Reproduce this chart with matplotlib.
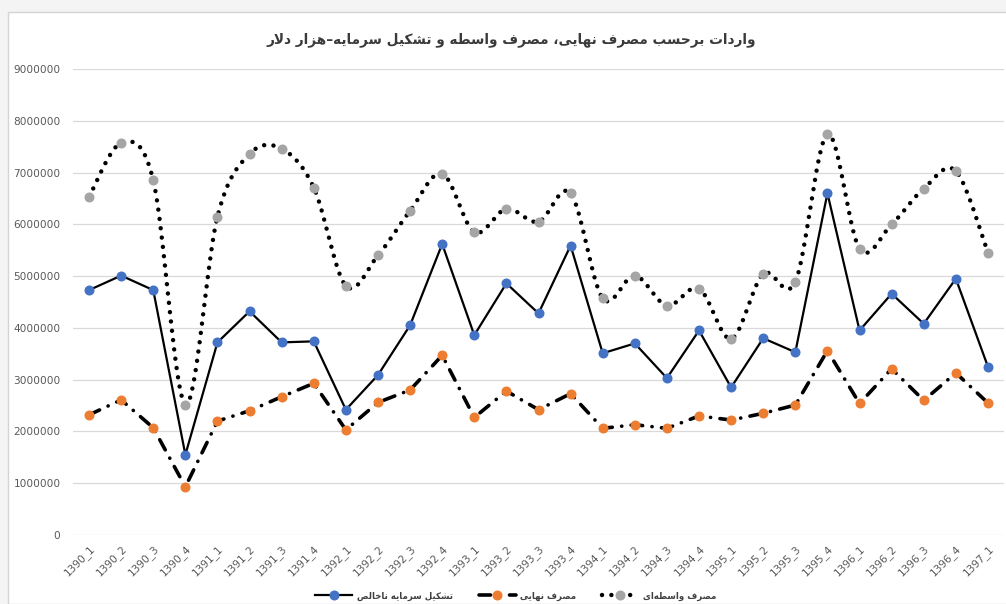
import numpy as np
import matplotlib
matplotlib.use("Agg")
import matplotlib.pyplot as plt
from matplotlib.lines import Line2D
from matplotlib.patches import Rectangle

# ---------------- data ----------------
periods = ["1390_1", "1390_2", "1390_3", "1390_4",
           "1391_1", "1391_2", "1391_3", "1391_4",
           "1392_1", "1392_2", "1392_3", "1392_4",
           "1393_1", "1393_2", "1393_3", "1393_4",
           "1394_1", "1394_2", "1394_3", "1394_4",
           "1395_1", "1395_2", "1395_3", "1395_4",
           "1396_1", "1396_2", "1396_3", "1396_4",
           "1397_1"]

capital_formation = [4730000, 5010000, 4730000, 1550000,
                     3720000, 4320000, 3720000, 3740000,
                     2420000, 3090000, 4050000, 5620000,
                     3860000, 4860000, 4280000, 5590000,
                     3510000, 3700000, 3030000, 3950000,
                     2850000, 3800000, 3530000, 6600000,
                     3950000, 4660000, 4080000, 4950000,
                     3250000]

final_consumption = [2320000, 2610000, 2070000, 930000,
                     2200000, 2400000, 2670000, 2930000,
                     2030000, 2560000, 2800000, 3470000,
                     2270000, 2780000, 2420000, 2730000,
                     2060000, 2130000, 2060000, 2300000,
                     2220000, 2350000, 2510000, 3560000,
                     2540000, 3210000, 2600000, 3130000,
                     2550000]

intermediate = [6530000, 7570000, 6850000, 2520000,
                6150000, 7360000, 7460000, 6710000,
                4810000, 5400000, 6260000, 6980000,
                5850000, 6300000, 6050000, 6600000,
                4570000, 5010000, 4430000, 4760000,
                3790000, 5040000, 4890000, 7740000,
                5530000, 6000000, 6690000, 7030000,
                5450000]

y_ticks = [0, 1000000, 2000000, 3000000, 4000000, 5000000,
           6000000, 7000000, 8000000, 9000000]

title_text = "واردات برحسب مصرف نهایی، مصرف واسطه و تشکیل سرمایه–هزار دلار"
label_capital = "تشکیل سرمایه ناخالص"
label_final = "مصرف نهایی"
label_inter = "مصرف واسطه\u200cای"

# ---------------- minimal Persian shaping (presentation forms + visual order) ----------------
FORMS = {  # isolated, final, initial, medial
    "\u0627": ("\uFE8D", "\uFE8E", None, None),
    "\u0628": ("\uFE8F", "\uFE90", "\uFE91", "\uFE92"),
    "\u062A": ("\uFE95", "\uFE96", "\uFE97", "\uFE98"),
    "\u062D": ("\uFEA1", "\uFEA2", "\uFEA3", "\uFEA4"),
    "\u062E": ("\uFEA5", "\uFEA6", "\uFEA7", "\uFEA8"),
    "\u062F": ("\uFEA9", "\uFEAA", None, None),
    "\u0631": ("\uFEAD", "\uFEAE", None, None),
    "\u0632": ("\uFEAF", "\uFEB0", None, None),
    "\u0633": ("\uFEB1", "\uFEB2", "\uFEB3", "\uFEB4"),
    "\u0634": ("\uFEB5", "\uFEB6", "\uFEB7", "\uFEB8"),
    "\u0635": ("\uFEB9", "\uFEBA", "\uFEBB", "\uFEBC"),
    "\u0637": ("\uFEC1", "\uFEC2", "\uFEC3", "\uFEC4"),
    "\u0641": ("\uFED1", "\uFED2", "\uFED3", "\uFED4"),
    "\u0644": ("\uFEDD", "\uFEDE", "\uFEDF", "\uFEE0"),
    "\u0645": ("\uFEE1", "\uFEE2", "\uFEE3", "\uFEE4"),
    "\u0646": ("\uFEE5", "\uFEE6", "\uFEE7", "\uFEE8"),
    "\u0647": ("\uFEE9", "\uFEEA", "\uFEEB", "\uFEEC"),
    "\u0648": ("\uFEED", "\uFEEE", None, None),
    "\u06CC": ("\uFBFC", "\uFBFD", "\uFBFE", "\uFBFF"),
    "\u06A9": ("\uFB8E", "\uFB8F", "\uFB90", "\uFB91"),
}


def dual(c):
    return c in FORMS and FORMS[c][2] is not None


def shape(text):
    out = []
    chars = list(text)
    i = 0
    n = len(chars)
    while i < n:
        c = chars[i]
        if c == "\u200c":
            i += 1
            continue
        if c not in FORMS:
            out.append(c)
            i += 1
            continue
        prev = chars[i - 1] if i > 0 else ""
        cp = dual(prev)
        if c == "\u0644" and i + 1 < n and chars[i + 1] == "\u0627":
            out.append("\uFEFC" if cp else "\uFEFB")
            i += 2
            continue
        nxt = chars[i + 1] if i + 1 < n else ""
        cn = dual(c) and nxt in FORMS
        iso, fin, ini, med = FORMS[c]
        if cp and cn:
            out.append(med)
        elif cp:
            out.append(fin)
        elif cn:
            out.append(ini)
        else:
            out.append(iso)
        i += 1
    return "".join(reversed(out))


def catmull_rom(xs, ys, steps=20):
    xs = np.asarray(xs, float)
    ys = np.asarray(ys, float)
    px, py = [], []
    n = len(xs)
    for k in range(n - 1):
        x0, y0 = (xs[k - 1], ys[k - 1]) if k > 0 else (xs[k], ys[k])
        x1, y1 = xs[k], ys[k]
        x2, y2 = xs[k + 1], ys[k + 1]
        x3, y3 = (xs[k + 2], ys[k + 2]) if k + 2 < n else (x2, y2)
        c1x, c1y = x1 + (x2 - x0) / 6, y1 + (y2 - y0) / 6
        c2x, c2y = x2 - (x3 - x1) / 6, y2 - (y3 - y1) / 6
        t = np.linspace(0, 1, steps, endpoint=(k == n - 2))
        b0 = (1 - t) ** 3
        b1 = 3 * (1 - t) ** 2 * t
        b2 = 3 * (1 - t) * t ** 2
        b3 = t ** 3
        px.append(b0 * x1 + b1 * c1x + b2 * c2x + b3 * x2)
        py.append(b0 * y1 + b1 * c1y + b2 * c2y + b3 * y2)
    return np.concatenate(px), np.concatenate(py)


# ---------------- figure ----------------
W, H = 1006, 604
fig = plt.figure(figsize=(W / 100, H / 100), dpi=100)
fig.patch.set_facecolor("#F4F4F4")
bg = Rectangle((8 / W, 0), 1, 1 - 12 / H, transform=fig.transFigure,
               facecolor="white", edgecolor="#D4D4D4", lw=1.0, zorder=-5)
fig.patches.append(bg)

ax = fig.add_axes([73 / W, (H - 535) / H, (1004 - 73) / W, (535 - 69) / H])
ax.set_zorder(2)
ax.set_facecolor("none")

x = np.arange(len(periods))
BLUE, ORANGE, GRAY = "#4472C4", "#ED7D31", "#A5A5A5"

# capital formation: solid
ax.plot(x, capital_formation, color="black", lw=1.6, zorder=3)
ax.plot(x, capital_formation, ls="none", marker="o", ms=6.2, mfc=BLUE, mec=BLUE, zorder=4)

# final consumption: dash-dot
ln, = ax.plot(x, final_consumption, color="black", lw=2.6, zorder=3,
              dash_capstyle="round")
ln.set_dashes((3.2, 2.6, 0.05, 2.6))
ax.plot(x, final_consumption, ls="none", marker="o", ms=6.2, mfc=ORANGE, mec=ORANGE, zorder=4)

# intermediate consumption: smoothed dotted
sx, sy = catmull_rom(x, intermediate)
ln2, = ax.plot(sx, sy, color="black", lw=3.2, zorder=3, dash_capstyle="round")
ln2.set_dashes((0.01, 2.1))
ax.plot(x, intermediate, ls="none", marker="o", ms=6.2, mfc=GRAY, mec=GRAY, zorder=4)

ax.set_xlim(-0.5, len(periods) - 0.5)
ax.set_ylim(0, 9000000)
ax.set_yticks(y_ticks)
ax.set_yticklabels([str(v) for v in y_ticks])
ax.set_xticks(x)
ax.set_xticklabels(periods, rotation=45, ha="right", rotation_mode="anchor")
ax.grid(axis="y", color="#D9D9D9", lw=0.9)
ax.set_axisbelow(True)
for s in ax.spines.values():
    s.set_visible(False)
ax.tick_params(axis="both", length=0, colors="#595959", labelsize=7.6)
ax.tick_params(axis="y", pad=9)
ax.tick_params(axis="x", pad=6)

fig.text(511 / W, 1 - 40 / H, shape(title_text), ha="center", va="center",
         fontsize=9.8, fontweight="bold", color="#3A3A3A", family="DejaVu Sans")

h1 = Line2D([], [], color="black", lw=1.6, marker="o", ms=6.2, mfc=BLUE, mec=BLUE)
h2 = Line2D([], [], color="black", lw=2.6, marker="o", ms=6.2, mfc=ORANGE, mec=ORANGE,
            dash_capstyle="round")
h2.set_dashes((3.2, 2.6, 0.05, 2.6))
h3 = Line2D([], [], color="black", lw=3.2, marker="o", ms=6.2, mfc=GRAY, mec=GRAY,
            dash_capstyle="round")
h3.set_dashes((0.01, 2.1))
leg = fig.legend([h1, h2, h3], [shape(label_capital), shape(label_final), shape(label_inter)],
                 loc="center", bbox_to_anchor=(516 / W, 1 - 596 / H), ncol=3, frameon=False,
                 handlelength=4.3, columnspacing=3.0, handletextpad=0.5,
                 prop={"size": 6.2, "weight": "bold", "family": "DejaVu Sans"})
for t in leg.get_texts():
    t.set_color("#404040")

fig.savefig("out.png", dpi=100, facecolor=fig.get_facecolor())
